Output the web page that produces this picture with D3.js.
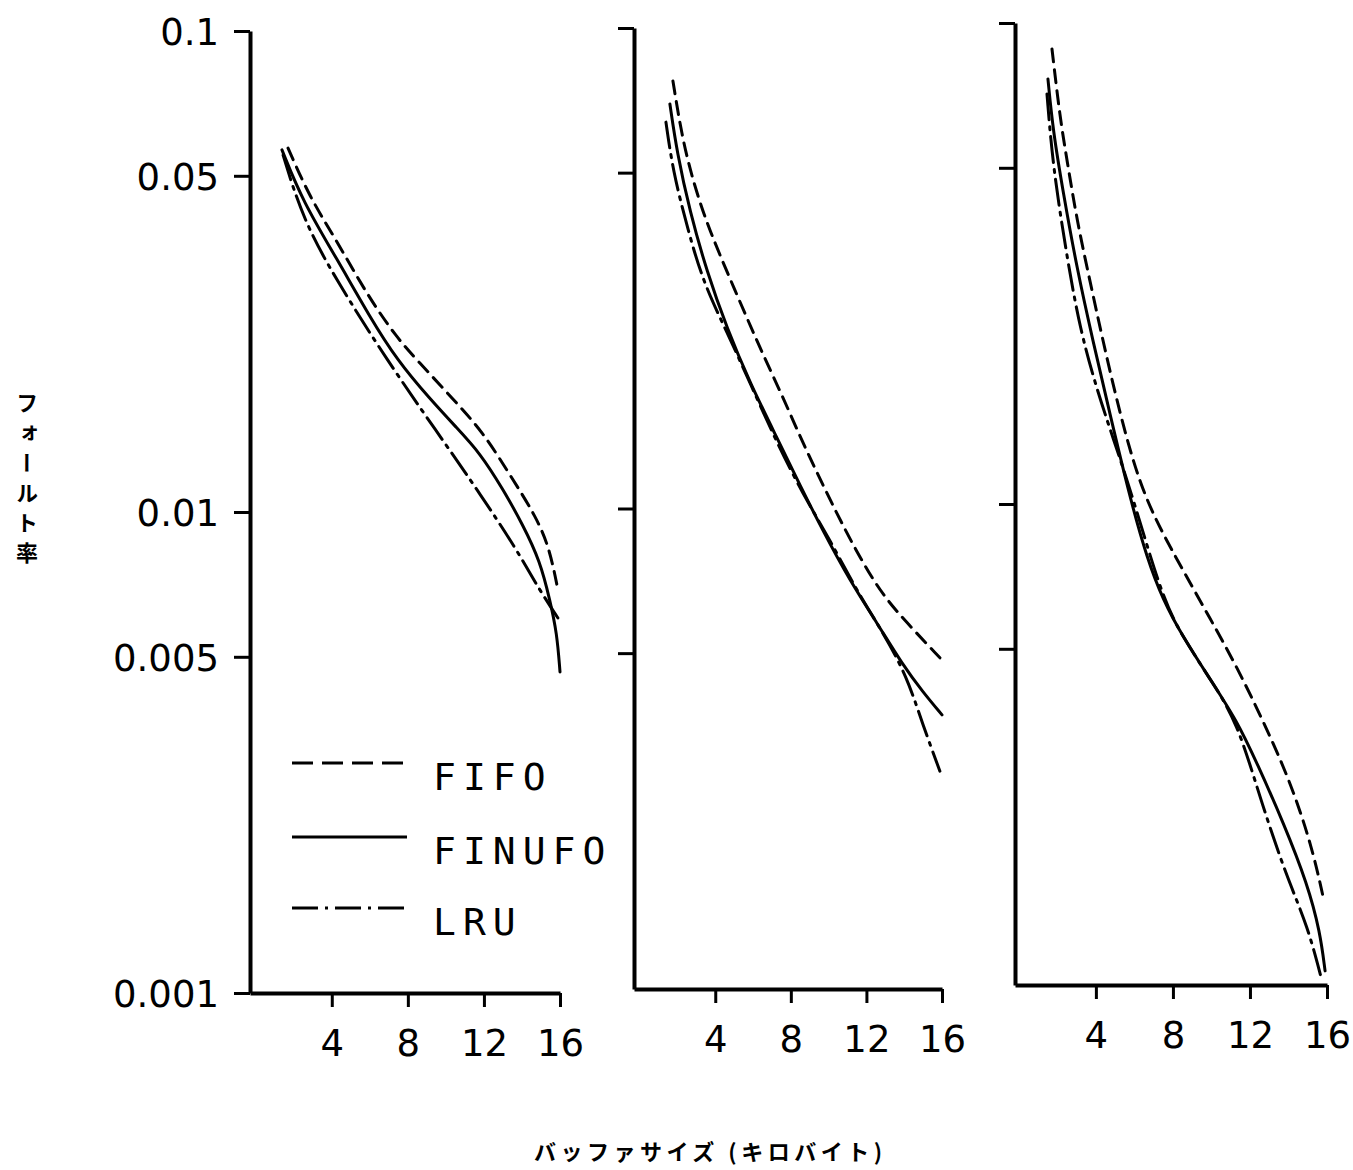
<!DOCTYPE html>
<html>
<head>
<meta charset="utf-8">
<script src="https://cdn.jsdelivr.net/npm/d3@7"></script>
<style>
  body { margin: 0; background: #fff; }
  svg { display: block; }
</style>
</head>
<body>
<svg id="chart" width="1353" height="1170"></svg>
<script>
// Series and tick labels
const seriesNames = ['FIFO', 'FINUFO', 'LRU'];
const xTickValues = [4, 8, 12, 16];
const yTickValues = [0.1, 0.05, 0.01, 0.005, 0.001];
const yTickLabels = ['0.1', '0.05', '0.01', '0.005', '0.001'];
const yTitle = 'フォールト率';
const xTitle = 'バッファサイズ (キロバイト)';

// Panel 1: [buffer size KB, fault rate]
const panel1Fifo = [[1.70, 0.0571], [2.85, 0.0450], [4.27, 0.0366], [5.85, 0.0283], [7.43, 0.0230],
  [8.48, 0.0207], [10.37, 0.01718], [11.95, 0.01467], [13.37, 0.01194], [14.79, 0.00972],
  [15.47, 0.00834], [15.89, 0.00689]];
const panel1Finufo = [[1.38, 0.0566], [2.49, 0.0441], [4.27, 0.0336], [6.01, 0.0254], [7.43, 0.0207],
  [9.16, 0.01718], [10.58, 0.01495], [11.79, 0.01327], [13.0, 0.01116], [14.05, 0.0094],
  [14.95, 0.00791], [15.47, 0.00656], [15.84, 0.0056], [16.0, 0.00465]];
const panel1Lru = [[1.44, 0.0552], [2.49, 0.0405], [4.27, 0.0302], [6.90, 0.0207], [9.53, 0.01467],
  [11.63, 0.01116], [13.74, 0.00834], [14.79, 0.00702], [15.89, 0.00602]];

// Panel 2
const panel2Fifo = [[1.76, 0.0776], [2.29, 0.0576], [3.03, 0.0451], [3.72, 0.0378], [4.62, 0.0311],
  [5.68, 0.0249], [6.53, 0.0209], [7.58, 0.01706], [8.64, 0.01368], [9.70, 0.01119],
  [10.76, 0.0092], [11.82, 0.0077], [12.87, 0.0066], [14.14, 0.00578], [15.89, 0.00489]];
const panel2Finufo = [[1.60, 0.0695], [1.97, 0.0552], [2.66, 0.0414], [3.56, 0.0311], [4.62, 0.0237],
  [5.84, 0.01825], [7.27, 0.01402], [8.48, 0.01119], [9.70, 0.00898], [11.13, 0.00707],
  [12.56, 0.00578], [13.93, 0.00472], [14.99, 0.00415], [16.0, 0.00372]];
const panel2Lru = [[1.39, 0.0637], [1.76, 0.0504], [2.50, 0.0387], [3.35, 0.0296], [4.62, 0.0233],
  [5.84, 0.01825], [7.27, 0.01368], [8.64, 0.01072], [10.07, 0.0086], [11.50, 0.00673],
  [12.87, 0.00553], [14.14, 0.00448], [14.99, 0.00354], [15.89, 0.00284]];

// Panel 3
const panel3Fifo = [[1.72, 0.0883], [2.14, 0.0634], [2.50, 0.0519], [3.02, 0.0388], [3.69, 0.0291],
  [4.37, 0.0218], [5.25, 0.01538], [6.29, 0.0109], [7.48, 0.00866], [8.52, 0.00729],
  [9.92, 0.00579], [11.33, 0.00458], [12.68, 0.00354], [14.08, 0.00266], [15.22, 0.00194],
  [15.79, 0.00153]];
const panel3Finufo = [[1.51, 0.0765], [1.77, 0.0599], [2.29, 0.0447], [3.02, 0.0308], [3.85, 0.0218],
  [4.73, 0.01538], [5.77, 0.0103], [6.65, 0.00772], [7.48, 0.00632], [8.52, 0.00529],
  [9.92, 0.00433], [11.33, 0.00354], [12.37, 0.00289], [13.75, 0.00217], [14.99, 0.00162],
  [15.64, 0.00129], [15.90, 0.00107]];
const panel3Lru = [[1.46, 0.0712], [1.77, 0.0502], [2.50, 0.0326], [3.17, 0.0231], [4.06, 0.01726],
  [4.89, 0.01372], [5.93, 0.0103], [7.48, 0.00632], [8.52, 0.00529], [9.92, 0.00433],
  [11.33, 0.00354], [12.53, 0.00244], [13.92, 0.00167], [14.99, 0.00133], [15.74, 0.00102]];

// Layout of the three panels (the scan is slightly skewed, so each has its own box)
const panels = [
  { left: 250, right: 560, top: 31, bottom: 993, series: [panel1Fifo, panel1Finufo, panel1Lru], labels: true },
  { left: 634, right: 942, top: 28, bottom: 989, series: [panel2Fifo, panel2Finufo, panel2Lru], labels: false },
  { left: 1015, right: 1327, top: 23, bottom: 985, series: [panel3Fifo, panel3Finufo, panel3Lru], labels: false }
];

const dashes = ['13,8', null, '26,7,3,7'];
const numFont = 'DejaVu Sans, sans-serif';
const jpFont = '"Noto Sans CJK JP", sans-serif';

const svg = d3.select('#chart');

panels.forEach((p, i) => {
  const x = d3.scaleLinear().domain([i === 2 ? -0.2 : -0.3, 16]).range([p.left, p.right]);
  const y = d3.scaleLog().domain([0.001, 0.1]).range([p.bottom, p.top]);

  const g = svg.append('g').attr('class', 'panel');

  // y axis
  const yAxis = d3.axisLeft(y)
    .tickValues(p.labels ? yTickValues : yTickValues.slice(0, 4))
    .tickSize(16)
    .tickSizeOuter(0)
    .tickPadding(15)
    .tickFormat(d => p.labels ? yTickLabels[yTickValues.indexOf(d)] : '');
  const ya = g.append('g').attr('transform', `translate(${p.left},0)`).call(yAxis);

  // x axis
  const xAxis = d3.axisBottom(x)
    .tickValues(xTickValues)
    .tickSize(14)
    .tickSizeOuter(0)
    .tickPadding(23);
  const xa = g.append('g').attr('transform', `translate(0,${p.bottom})`).call(xAxis);

  [ya, xa].forEach(a => {
    a.select('.domain').attr('stroke', '#000').attr('stroke-width', 4);
    a.selectAll('.tick line').attr('stroke', '#000').attr('stroke-width', 3);
    a.selectAll('.tick text').attr('fill', '#000').style('font-family', numFont).style('font-size', '37px');
  });
  ya.selectAll('.tick text').attr('dy', '0.36em');

  // curves
  const line = d3.line()
    .x(d => x(d[0]))
    .y(d => y(d[1]))
    .curve(d3.curveBasis);

  g.selectAll('.curve')
    .data(p.series)
    .enter().append('path')
    .attr('class', 'curve')
    .attr('d', line)
    .attr('fill', 'none')
    .attr('stroke', '#000')
    .attr('stroke-width', 3)
    .attr('stroke-linecap', 'round')
    .attr('stroke-dasharray', (d, k) => dashes[k]);
});

// legend (inside the first panel)
const legend = svg.append('g').attr('class', 'legend');
const legendRows = [763, 837, 908];
seriesNames.forEach((name, k) => {
  legend.append('line')
    .attr('x1', 292).attr('x2', 407)
    .attr('y1', legendRows[k]).attr('y2', legendRows[k])
    .attr('stroke', '#000')
    .attr('stroke-width', 3)
    .attr('stroke-dasharray', k === 0 ? '21,9' : dashes[k]);
  legend.append('text')
    .attr('x', 433)
    .attr('y', legendRows[k] + 27)
    .text(name)
    .style('font-family', '"DejaVu Sans Mono", monospace')
    .style('font-size', '38px')
    .style('letter-spacing', '7px')
    .attr('fill', '#000');
});

// axis titles
svg.append('text')
  .attr('x', 27)
  .attr('y', 392)
  .text(yTitle)
  .style('writing-mode', 'vertical-rl')
  .style('font-family', jpFont)
  .style('font-weight', 'bold')
  .style('font-size', '22px')
  .style('letter-spacing', '8px')
  .attr('fill', '#000');

svg.append('text')
  .attr('x', 534)
  .attr('y', 1160)
  .text(xTitle)
  .style('font-family', jpFont)
  .style('font-weight', 'bold')
  .style('font-size', '22px')
  .style('letter-spacing', '4.5px')
  .attr('fill', '#000');
</script>
</body>
</html>
